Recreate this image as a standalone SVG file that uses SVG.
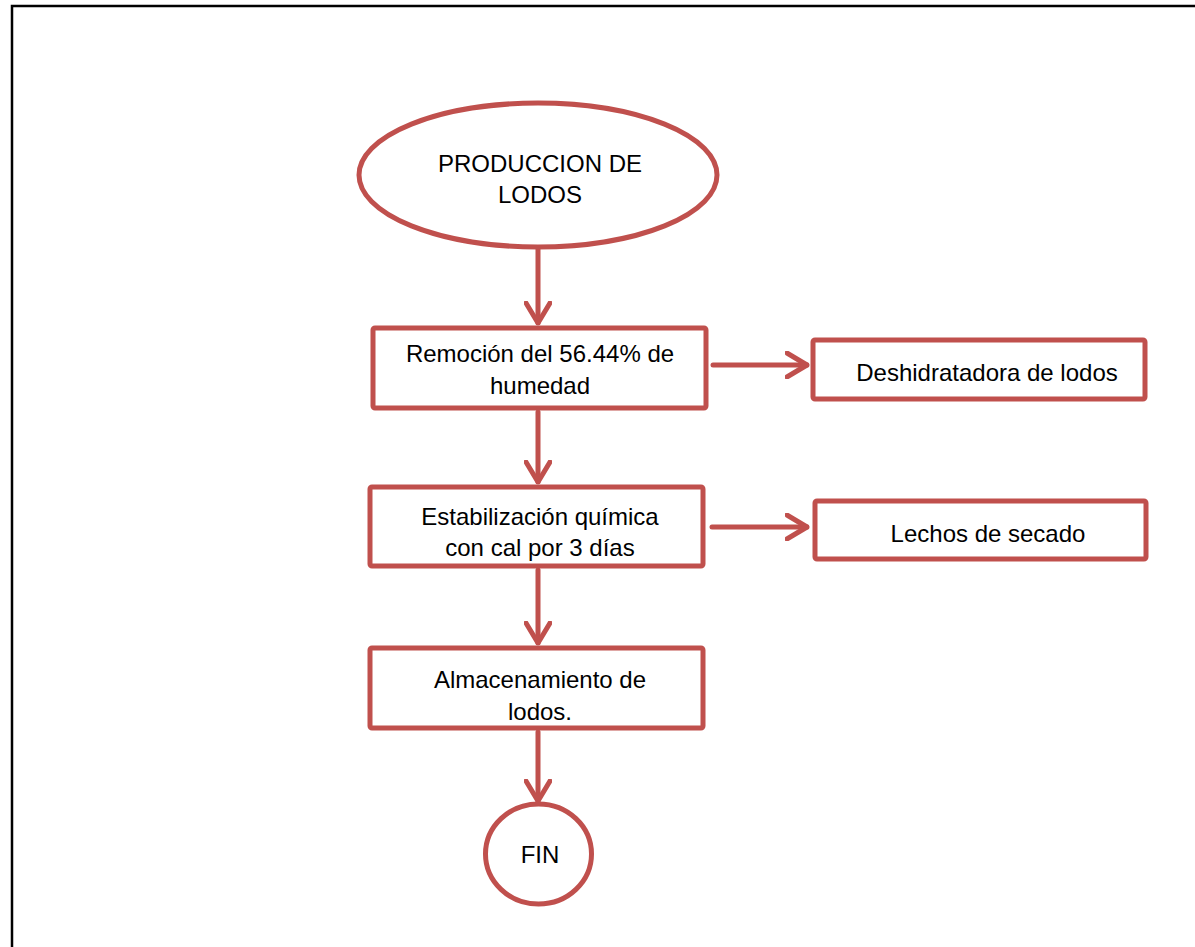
<svg xmlns="http://www.w3.org/2000/svg" width="1195" height="947" viewBox="0 0 1195 947">
  <style>
    .shape { fill: #ffffff; stroke: #C0504D; stroke-width: 5; stroke-linejoin: round; }
    .label { font-family: "Liberation Sans", Arial, sans-serif; font-size: 24px; fill: #000000; text-anchor: middle; }
    .link { fill: none; stroke: #C0504D; stroke-width: 5; stroke-linecap: round; stroke-linejoin: round; }
  </style>
  <defs>
    <marker id="chevron" viewBox="0 0 24 28" refX="22" refY="14" markerWidth="24" markerHeight="28" markerUnits="userSpaceOnUse" orient="auto">
      <path d="M2,2 L22,14 L2,26" fill="none" stroke="#C0504D" stroke-width="5" stroke-linecap="round" stroke-linejoin="round"/>
    </marker>
  </defs>

  <rect width="1195" height="947" fill="#ffffff"/>
  <!-- page frame -->
  <rect x="12" y="6" width="1200" height="1000" fill="none" stroke="#000000" stroke-width="2.5"/>

  <g id="connectors">
    <line class="link" x1="538" y1="249" x2="538" y2="323" marker-end="url(#chevron)"/>
    <line class="link" x1="538" y1="412" x2="538" y2="482" marker-end="url(#chevron)"/>
    <line class="link" x1="538" y1="570" x2="538" y2="643" marker-end="url(#chevron)"/>
    <line class="link" x1="538" y1="732" x2="538" y2="801" marker-end="url(#chevron)"/>
    <line class="link" x1="713" y1="365" x2="807" y2="365" marker-end="url(#chevron)"/>
    <line class="link" x1="712" y1="527" x2="807" y2="527" marker-end="url(#chevron)"/>
  </g>

  <g id="start">
    <ellipse class="shape" cx="538" cy="175" rx="179" ry="72" stroke-width="4.5"/>
    <text class="label" x="540" y="172">PRODUCCION DE</text>
    <text class="label" x="540" y="203">LODOS</text>
  </g>

  <g id="remocion">
    <rect class="shape" x="373" y="328" width="333" height="80" rx="2"/>
    <text class="label" x="540" y="362">Remoción del 56.44% de</text>
    <text class="label" x="540" y="394">humedad</text>
  </g>

  <g id="deshidratadora">
    <rect class="shape" x="813" y="340" width="332" height="59" rx="2"/>
    <text class="label" x="987" y="381">Deshidratadora de lodos</text>
  </g>

  <g id="estabilizacion">
    <rect class="shape" x="370" y="487" width="333" height="79" rx="2"/>
    <text class="label" x="540" y="525">Estabilización química</text>
    <text class="label" x="540" y="556">con cal por 3 días</text>
  </g>

  <g id="lechos">
    <rect class="shape" x="815" y="501" width="331" height="58" rx="2"/>
    <text class="label" x="988" y="542">Lechos de secado</text>
  </g>

  <g id="almacenamiento">
    <rect class="shape" x="370" y="648" width="333" height="80" rx="2"/>
    <text class="label" x="540" y="688">Almacenamiento de</text>
    <text class="label" x="540" y="720">lodos.</text>
  </g>

  <g id="fin">
    <ellipse class="shape" cx="538.5" cy="854" rx="53" ry="50"/>
    <text class="label" x="540" y="863">FIN</text>
  </g>
</svg>
